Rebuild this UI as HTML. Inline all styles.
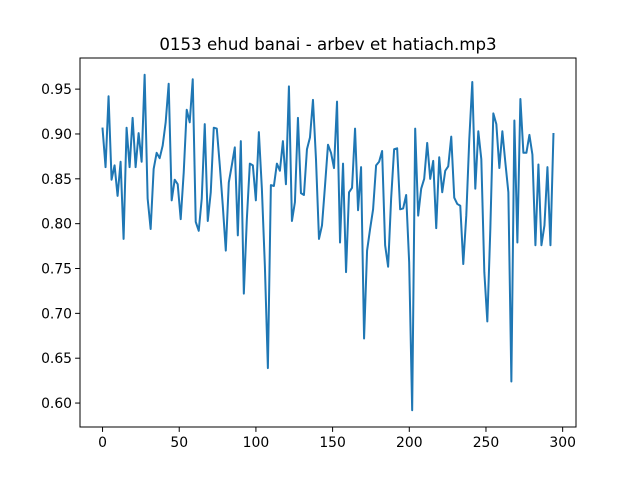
<!DOCTYPE html>
<html><head><meta charset="utf-8"><style>
body{margin:0;background:#fff;}
svg text{font-family:"DejaVu Sans","Liberation Sans",sans-serif;fill:#000;}
</style></head><body>
<svg id="chart" width="640" height="480" xmlns="http://www.w3.org/2000/svg">
<rect width="640" height="480" fill="#fff"/>
<text x="328" y="50" font-size="16.67" text-anchor="middle">0153 ehud banai - arbev et hatiach.mp3</text>
<g id="plot"></g>
</svg>
<script>
const values=[0.906,0.863,0.942,0.849,0.865,0.831,0.869,0.783,0.907,0.863,0.918,0.863,0.901,0.869,0.966,0.828,0.794,0.861,0.879,0.873,0.887,0.913,0.956,0.826,0.849,0.844,0.805,0.857,0.927,0.913,0.961,0.802,0.792,0.828,0.911,0.803,0.835,0.907,0.906,
0.865,0.820,0.770,0.846,0.865,0.885,0.787,0.892,0.722,0.805,0.867,0.865,0.826,0.902,0.839,0.753,0.639,0.843,0.842,0.867,0.859,0.892,0.844,0.953,0.803,0.824,0.918,0.834,0.832,0.883,0.896,0.938,0.872,0.783,0.798,0.842,0.888,0.879,0.862,0.936,
0.779,0.867,0.746,0.835,0.840,0.906,0.815,0.863,0.672,0.770,0.794,0.816,0.865,0.869,0.881,0.776,0.752,0.828,0.883,0.884,0.816,0.817,0.832,0.757,0.592,0.906,0.809,0.839,0.850,0.890,0.850,0.870,0.795,0.874,0.835,0.859,0.864,0.897,0.829,0.822,
0.820,0.755,0.809,0.894,0.958,0.839,0.903,0.872,0.746,0.691,0.794,0.923,0.911,0.862,0.903,0.868,0.835,0.624,0.915,0.779,0.939,0.879,0.879,0.899,0.877,0.776,0.866,0.776,0.798,0.863,0.776,0.900];
const xMax=294;
const xTicks=[0,50,100,150,200,250,300];
const yTicks=[0.60,0.65,0.70,0.75,0.80,0.85,0.90,0.95];
const yTickLabels=["0.60","0.65","0.70","0.75","0.80","0.85","0.90","0.95"];

const L=80,R=576,T=58,B=427;
const x0=-xMax*0.05,x1=xMax*1.05;
const ymin=Math.min(...values),ymax=Math.max(...values),ypad=(ymax-ymin)*0.05;
const y0=ymin-ypad,y1=ymax+ypad;
const sx=v=>L+(v-x0)/(x1-x0)*(R-L);
const sy=v=>B-(v-y0)/(y1-y0)*(B-T);
const NS="http://www.w3.org/2000/svg";
const g=document.getElementById('plot');
function mk(t,a){const e=document.createElementNS(NS,t);for(const k in a)e.setAttribute(k,a[k]);g.appendChild(e);return e;}
const n=values.length;
let d='';
values.forEach((v,i)=>{const xv=i*xMax/(n-1);d+=(i?'L':'M')+sx(xv).toFixed(2)+','+sy(v).toFixed(2);});
const line=mk('path',{d:d,fill:'none',stroke:'#1f77b4','stroke-width':2,'stroke-linejoin':'round','stroke-linecap':'square'});


xTicks.forEach(t=>{
 const x=sx(t);
 const tk=mk('line',{x1:x,x2:x,y1:B,y2:B+4.9,stroke:'#000','stroke-width':1});
 
 
 const tx=mk('text',{x:x,y:B+20,'font-size':13.9,'text-anchor':'middle'});
 tx.textContent=t;
 
 
});
yTicks.forEach((t,i)=>{
 const y=sy(t);
 const tk=mk('line',{x1:L-4.9,x2:L,y1:y,y2:y,stroke:'#000','stroke-width':1});
 
 
 const tx=mk('text',{x:L-8,y:y+5,'font-size':13.9,'text-anchor':'end'});
 tx.textContent=yTickLabels[i];
 
 
});
const fr=mk('rect',{x:L,y:T,width:R-L,height:B-T,fill:'none',stroke:'#000','stroke-width':1});


</script>
</body></html>
